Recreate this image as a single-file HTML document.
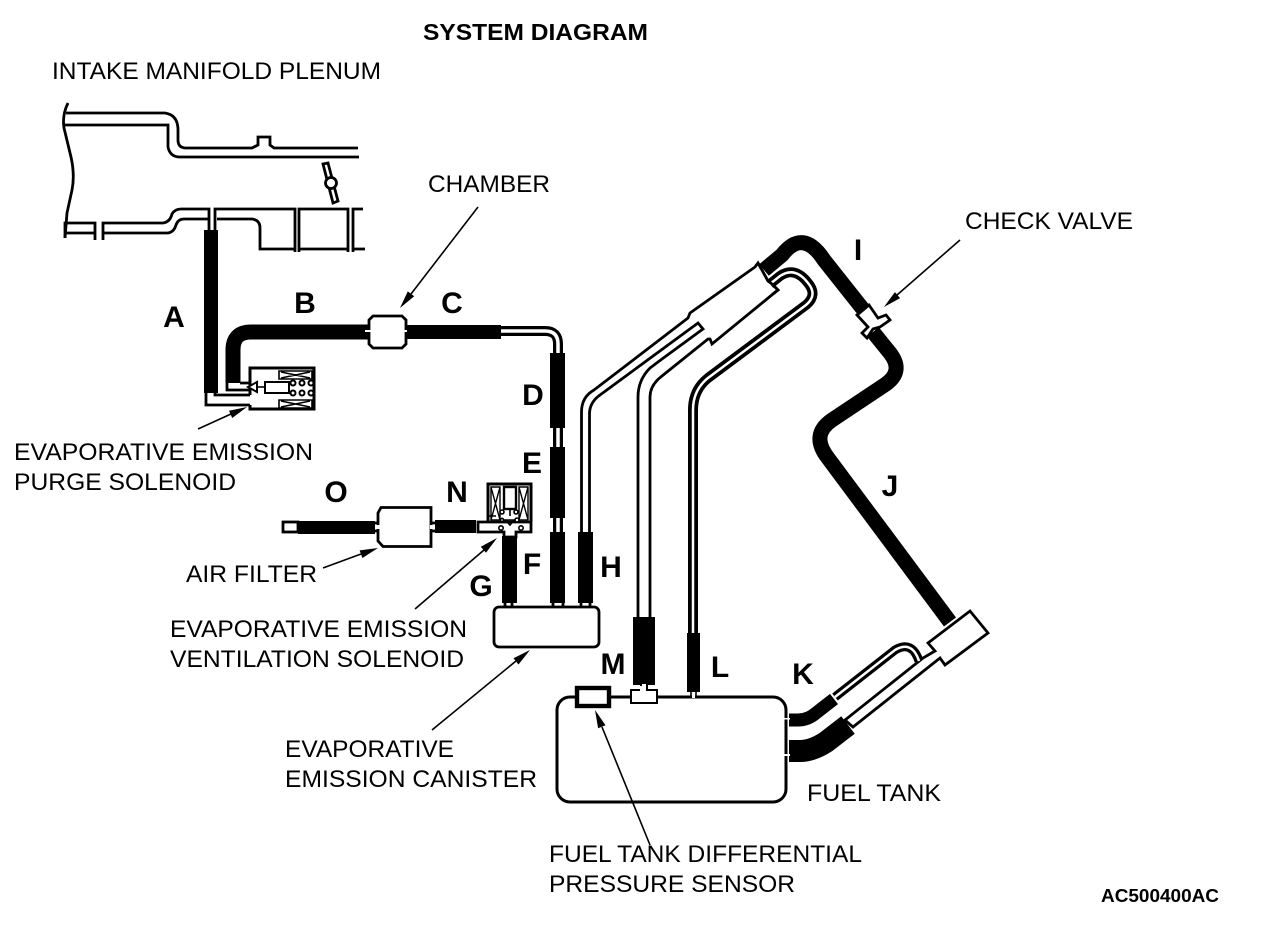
<!DOCTYPE html>
<html><head><meta charset="utf-8"><style>
html,body{margin:0;padding:0;background:#fff}
svg{display:block}
text{font-family:"Liberation Sans",sans-serif;fill:#000;font-size:24px}
.b{font-weight:bold;font-size:30px;text-anchor:middle}
.l{fill:none;stroke:#000;stroke-width:2.8}
.t{fill:none;stroke:#000;stroke-width:1.6}
.w{fill:#fff;stroke:#000;stroke-width:2.8}
.h{fill:none;stroke:#000;stroke-width:15}
.p{fill:none}
</style></head><body>
<svg width="1264" height="932" viewBox="0 0 1264 932" xmlns="http://www.w3.org/2000/svg">
<!-- manifold -->
<path class="l" d="M68,103 Q62,115 64,128 L71,157 Q75,175 72,190 L67,213 L65,238"/>
<path class="l" d="M66,113 H165 Q178,115 178,130 V140 Q178,148 186,148 H252 L258,145 V137 H270 V145 L274,148 H358"/>
<path class="l" d="M64,125 H168 V147 Q170,157 180,157 H359"/>
<path class="l" d="M65,238 V223 H95 V240 M65,233 H95 M103,240 V223 H163 Q170,222 172,214 Q175,209 181,209 H209 V231 M103,233 H168 Q174,232 176,225 Q178,219 184,219 H208"/>
<path class="l" d="M215,231 V209 H295 V252 M217,219 H252 Q260,220 260,228 V249 H295 M299,252 V209 H348 V252 M299,249 H348 M353,252 V209 H363 M353,249 H365"/>
<path d="M323,164 L328,163 L338,201 L333,203 Z" class="w"/>
<circle cx="331" cy="183" r="5.5" class="w"/>
<!-- Hose A -->
<rect x="204" y="230" width="14" height="163"/>
<path class="l" d="M206,393 V405 H250 M215,393 V395 H250"/>
<!-- Hose B -->
<path class="h" d="M233,383 V350 Q233,332 251,332 H368"/>
<path class="l" d="M227,381 V390 H250 M240,383 H250"/>
<!-- purge solenoid -->
<path class="l" style="stroke-width:3" d="M250,395 V368 H314 V409 H250 V405"/>
<path class="t" d="M279,371 H312 V379 H279 Z M281,372 L310,378 M310,372 L281,378 M279,400 H312 V408 H279 Z M281,401 L310,407 M310,401 L281,407"/>
<rect x="265" y="382" width="24" height="11" class="w" style="stroke-width:2"/>
<path d="M248,387 L257,382 V392 Z" class="w" style="stroke-width:2"/>
<path class="t" d="M257,387 H265"/>
<g class="w" style="stroke-width:2"><circle cx="293" cy="383" r="2.5"/><circle cx="302" cy="383" r="2.5"/><circle cx="311" cy="383" r="2.5"/><circle cx="293" cy="393" r="2.5"/><circle cx="302" cy="393" r="2.5"/><circle cx="311" cy="393" r="2.5"/></g>
<!-- chamber -->
<path class="w" d="M373,316 H402 L406,320 V344 L402,348 H373 L369,344 V320 Z"/>
<rect x="365" y="330" width="8" height="2" fill="#fff"/>
<rect x="403" y="330" width="7" height="2" fill="#fff"/>
<rect x="407" y="325" width="94" height="14"/>
<path class="p" stroke="#000" stroke-width="10" d="M501,331 H545 Q558,331 558,344 V532"/>
<path class="p" stroke="#fff" stroke-width="3.5" d="M501,331 H545 Q558,331 558,344 V532"/>
<rect x="550" y="353" width="15" height="75"/>
<rect x="550" y="447" width="15" height="71"/>
<rect x="550" y="532" width="15" height="71"/>
<!-- H pipe and M pipe upper -->
<path class="l" d="M581.5,532 V412 Q581.5,397 594,390 L688,318 L690,313 L755,267 L758,263 L768,281 L772,284 L778,290 L773,294 L712,344 L710,339 L708,339 L662,376 Q650,385 650,397 V618"/>
<path class="l" d="M589.5,532 V413 Q590,402 600,395 L698,323 L703,329 L662,359 L650,368 Q638,380 638,397 V618"/>
<rect x="578" y="532" width="15" height="71"/>
<!-- L pipe -->
<path class="p" stroke="#000" stroke-width="10" d="M693,633 V410 Q693,390 708,378 L806,305 Q818,295 808,283 Q795,266 780,276 L770,284"/>
<path class="p" stroke="#fff" stroke-width="2.5" d="M693,633 V410 Q693,390 708,378 L806,305 Q818,295 808,283 Q795,266 780,276 L770,284"/>
<path class="l" style="fill:#fff;stroke:none" d="M762,268 L768,281 L772,284 L760,292 L752,275 Z"/>
<path class="l" d="M758,263 L768,281 L772,284 L778,290 L773,294"/>
<!-- I, J hoses -->
<path class="h" d="M764,270 L782,255 Q803,228 824,260 L866,313"/>
<path class="h" d="M873,332 L890,353 Q904,371 886,384 L832,420 Q810,435 828,458 L950,622"/>
<path class="w" d="M857,315 L869,305 L878,318 L886,315 L890,320 L880,327 L873,329 L867,338 L862,333 L868,327 Z"/>
<!-- lower sleeve -->
<path class="w" d="M853,727 L940,658 L945,665 L988,633 L970,611 L928,643 L935,651 L923,658 L845,720 Z"/>
<path class="p" stroke="#000" stroke-width="9" d="M919,661 Q912,640 895,650 L835,697"/>
<path class="p" stroke="#fff" stroke-width="2.5" d="M919,661 Q912,640 895,650 L835,697"/>
<!-- tank -->
<rect x="557" y="697" width="229" height="105" rx="13" class="w" style="stroke-width:3"/>
<path class="h" style="stroke-width:13" d="M789,720 H798 Q808,720 816,713 L834,699"/>
<path class="h" style="stroke-width:22" d="M789,751 H800 Q812,751 826,742 L848,725"/>
<rect x="784" y="718" width="6" height="1.5" fill="#fff"/>
<rect x="784" y="754" width="6" height="2" fill="#fff"/>
<rect x="577" y="688" width="32" height="18" fill="#fff" stroke="#000" stroke-width="4.4"/>
<rect x="633" y="617" width="22" height="68"/>
<path class="w" style="stroke-width:2" d="M641,684 V690 H631 V703 H657 V690 H647 V684"/>
<rect x="640" y="686" width="6" height="5" fill="#fff"/>
<rect x="687" y="633" width="13" height="59"/>
<path class="t" d="M691,692 V697 M696,692 V697"/>
<rect x="692" y="692" width="3" height="6" fill="#fff"/>
<!-- canister -->
<path class="l" d="M505,603 V608 M512,603 V608 M553,603 V608 M563,603 V608 M581,603 V608 M590,603 V608"/>
<rect x="494" y="607" width="105" height="40" rx="5" class="w"/>
<rect x="502" y="536" width="15" height="67"/>
<!-- vent solenoid -->
<path class="l" style="stroke-width:3" d="M488,522 V484 H531 V522"/>
<path class="t" style="stroke-width:1.4" d="M491,487 H500 V520 H491 Z M491,487 L500,520 M500,487 L491,520 M519,487 H528 V520 H519 Z M519,487 L528,520 M528,487 L519,520"/>
<rect x="504" y="487" width="12" height="22" class="w" style="stroke-width:2.4"/>
<path class="w" d="M478,522 H531 V532 H516 V537 H504 V532 H478 Z"/>
<g class="w" style="stroke-width:1.6"><circle cx="502" cy="512" r="2"/><circle cx="516" cy="512" r="2"/><circle cx="501" cy="528" r="2.2"/><circle cx="521" cy="528" r="2.2"/><circle cx="517" cy="520" r="2"/><circle cx="502" cy="520" r="1.6"/></g>
<path class="t" d="M505,520 L510,525 L514,520 Z M510,509 V516 M488,516 H496"/>
<rect x="435" y="520" width="41" height="13"/>
<rect x="298" y="521" width="77" height="13"/>
<rect x="283" y="522" width="15" height="10" class="w"/>
<path class="w" d="M381,507.5 H431 V546.5 H383 L378,541 V513 Z"/>
<path class="l" d="M375,523 H379 M375,531 H379 M431,523 H436 M431,531 H436"/>
<rect x="376" y="525" width="4" height="4" fill="#fff"/>
<rect x="430" y="525" width="5" height="4" fill="#fff"/>
<!-- arrows -->
<g stroke="#000" stroke-width="1.6" fill="#000">
<path d="M478,207 L411,294"/><path stroke="none" d="M400,308 L414.2,296.2 L407.8,291.4 Z"/>
<path d="M960,240 L897,295"/><path stroke="none" d="M884,307 L900.1,298.1 L894.9,292.1 Z"/>
<path d="M198,429 L231,414"/><path stroke="none" d="M247,407 L232.2,418 L229,410.8 Z"/>
<path d="M323,568 L361,554"/><path stroke="none" d="M378,548 L362.4,558 L359.6,550.4 Z"/>
<path d="M415,609 L484,550"/><path stroke="none" d="M497,538 L486,552.8 L480.8,546.8 Z"/>
<path d="M432,730 L516,661"/><path stroke="none" d="M530,650 L518.5,664.5 L513.5,658.3 Z"/>
<path d="M650,845 L602,727"/><path stroke="none" d="M595,710 L605.5,725.2 L598.1,728.2 Z"/>
</g>
<!-- labels -->
<text x="423" y="40" textLength="225" lengthAdjust="spacingAndGlyphs" style="font-weight:bold;font-size:23px">SYSTEM DIAGRAM</text>
<text x="52" y="79" textLength="329" lengthAdjust="spacingAndGlyphs">INTAKE MANIFOLD PLENUM</text>
<text x="428" y="192" textLength="122" lengthAdjust="spacingAndGlyphs">CHAMBER</text>
<text x="965" y="229" textLength="168" lengthAdjust="spacingAndGlyphs">CHECK VALVE</text>
<text x="14" y="460" textLength="299" lengthAdjust="spacingAndGlyphs">EVAPORATIVE EMISSION</text>
<text x="14" y="490" textLength="222" lengthAdjust="spacingAndGlyphs">PURGE SOLENOID</text>
<text x="186" y="582" textLength="131" lengthAdjust="spacingAndGlyphs">AIR FILTER</text>
<text x="170" y="637" textLength="297" lengthAdjust="spacingAndGlyphs">EVAPORATIVE EMISSION</text>
<text x="170" y="667" textLength="294" lengthAdjust="spacingAndGlyphs">VENTILATION SOLENOID</text>
<text x="285" y="757" textLength="169" lengthAdjust="spacingAndGlyphs">EVAPORATIVE</text>
<text x="285" y="787" textLength="252" lengthAdjust="spacingAndGlyphs">EMISSION CANISTER</text>
<text x="807" y="801" textLength="134" lengthAdjust="spacingAndGlyphs">FUEL TANK</text>
<text x="549" y="862" textLength="313" lengthAdjust="spacingAndGlyphs">FUEL TANK DIFFERENTIAL</text>
<text x="549" y="892" textLength="246" lengthAdjust="spacingAndGlyphs">PRESSURE SENSOR</text>
<text x="1101" y="902" textLength="118" lengthAdjust="spacingAndGlyphs" style="font-weight:bold;font-size:18px">AC500400AC</text>
<text class="b" x="174" y="327">A</text>
<text class="b" x="305" y="313">B</text>
<text class="b" x="452" y="313">C</text>
<text class="b" x="533" y="405">D</text>
<text class="b" x="532" y="473">E</text>
<text class="b" x="532" y="574">F</text>
<text class="b" x="481" y="596">G</text>
<text class="b" x="611" y="577">H</text>
<text class="b" x="858" y="260">I</text>
<text class="b" x="890" y="496">J</text>
<text class="b" x="803" y="684">K</text>
<text class="b" x="720" y="677">L</text>
<text class="b" x="613" y="674">M</text>
<text class="b" x="457" y="502">N</text>
<text class="b" x="336" y="502">O</text>
</svg>
</body></html>
